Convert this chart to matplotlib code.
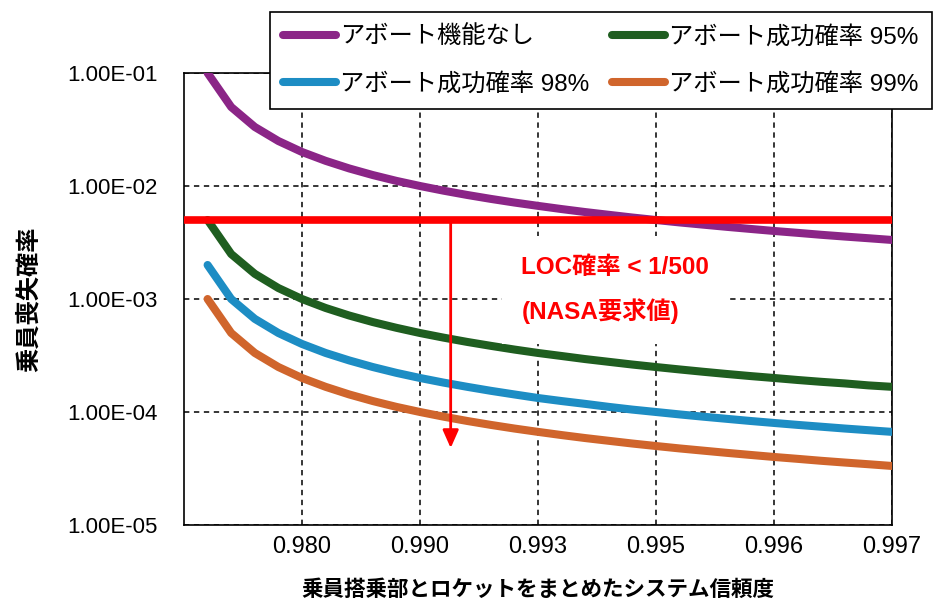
import numpy as np
import matplotlib
matplotlib.use("Agg")
import matplotlib.pyplot as plt
from matplotlib.ticker import FixedLocator, FixedFormatter, FuncFormatter

plt.rcParams['font.family'] = ['Liberation Sans', 'Noto Sans CJK JP']

# x position = 1 / (1 - reliability), i.e. flights per loss of vehicle
flights = [10, 20, 30, 40, 50, 60, 70, 80, 90, 100,
           110, 120, 130, 140, 150, 160, 170, 180, 190, 200,
           210, 220, 230, 240, 250, 260, 270, 280, 290, 300]

# crew loss probability per series
no_abort = [1.00e-1, 5.00e-2, 3.33e-2, 2.50e-2, 2.00e-2, 1.67e-2, 1.43e-2, 1.25e-2, 1.11e-2, 1.00e-2,
            9.09e-3, 8.33e-3, 7.69e-3, 7.14e-3, 6.67e-3, 6.25e-3, 5.88e-3, 5.56e-3, 5.26e-3, 5.00e-3,
            4.76e-3, 4.55e-3, 4.35e-3, 4.17e-3, 4.00e-3, 3.85e-3, 3.70e-3, 3.57e-3, 3.45e-3, 3.33e-3]
abort_95 = [5.00e-3, 2.50e-3, 1.67e-3, 1.25e-3, 1.00e-3, 8.33e-4, 7.14e-4, 6.25e-4, 5.56e-4, 5.00e-4,
            4.55e-4, 4.17e-4, 3.85e-4, 3.57e-4, 3.33e-4, 3.13e-4, 2.94e-4, 2.78e-4, 2.63e-4, 2.50e-4,
            2.38e-4, 2.27e-4, 2.17e-4, 2.08e-4, 2.00e-4, 1.92e-4, 1.85e-4, 1.79e-4, 1.72e-4, 1.67e-4]
abort_98 = [2.00e-3, 1.00e-3, 6.67e-4, 5.00e-4, 4.00e-4, 3.33e-4, 2.86e-4, 2.50e-4, 2.22e-4, 2.00e-4,
            1.82e-4, 1.67e-4, 1.54e-4, 1.43e-4, 1.33e-4, 1.25e-4, 1.18e-4, 1.11e-4, 1.05e-4, 1.00e-4,
            9.52e-5, 9.09e-5, 8.70e-5, 8.33e-5, 8.00e-5, 7.69e-5, 7.41e-5, 7.14e-5, 6.90e-5, 6.67e-5]
abort_99 = [1.00e-3, 5.00e-4, 3.33e-4, 2.50e-4, 2.00e-4, 1.67e-4, 1.43e-4, 1.25e-4, 1.11e-4, 1.00e-4,
            9.09e-5, 8.33e-5, 7.69e-5, 7.14e-5, 6.67e-5, 6.25e-5, 5.88e-5, 5.56e-5, 5.26e-5, 5.00e-5,
            4.76e-5, 4.55e-5, 4.35e-5, 4.17e-5, 4.00e-5, 3.85e-5, 3.70e-5, 3.57e-5, 3.45e-5, 3.33e-5]

series_labels = ['アボート機能なし', 'アボート成功確率 95%', 'アボート成功確率 98%', 'アボート成功確率 99%']
series_colors = ['#8B2587', '#1F5E20', '#1D8DC4', '#D0652C']

x_ticks = [50, 100, 150, 200, 250, 300]
x_tick_labels = ['0.980', '0.990', '0.993', '0.995', '0.996', '0.997']
y_ticks = [1e-5, 1e-4, 1e-3, 1e-2, 1e-1]

loc_limit = 5e-3        # requirement line
arrow_x = 113
arrow_end = 4.8e-5

fig = plt.figure(figsize=(9.33, 6.03), dpi=100)
ax = fig.add_axes([184 / 933, 1 - 525 / 603, 708 / 933, 452 / 603])

lines = []
for ys, lab, col in zip([no_abort, abort_95, abort_98, abort_99], series_labels, series_colors):
    ln, = ax.plot(flights, ys, color=col, lw=5.8, solid_capstyle='round',
                  solid_joinstyle='round', label=lab, zorder=3)
    lines.append(ln)

ax.axhline(loc_limit, color='#FF0000', lw=5.5, zorder=4)
ax.annotate('', xy=(arrow_x, arrow_end), xytext=(arrow_x, loc_limit),
            arrowprops=dict(arrowstyle='-|>,head_length=0.45,head_width=0.2',
                            color='#FF0000', lw=2, mutation_scale=24,
                            shrinkA=0, shrinkB=0), zorder=5)
ax.text(143, 1.2e-3, 'LOC確率 < 1/500\n(NASA要求値)', color='#FF0000',
        fontsize=17.5, fontweight='bold', ha='left', va='center', linespacing=1.95,
        bbox=dict(boxstyle='square,pad=0.8', fc='white', ec='none'), zorder=6)

ax.set_yscale('log')
ax.set_ylim(1e-5, 1e-1)
ax.set_xlim(0, 300)
ax.yaxis.set_major_locator(FixedLocator(y_ticks))
ax.yaxis.set_major_formatter(FuncFormatter(lambda v, p: f'{v:.2E}'))
ax.yaxis.set_minor_locator(FixedLocator([]))
ax.xaxis.set_major_locator(FixedLocator(x_ticks))
ax.xaxis.set_major_formatter(FixedFormatter(x_tick_labels))

ax.tick_params(axis='y', length=0, pad=19, labelsize=16)
ax.tick_params(axis='x', length=0, pad=8, labelsize=17)

ax.grid(True, color='black', lw=1.1, ls=(0, (3.5, 3)))
ax.set_axisbelow(True)
for sp in ax.spines.values():
    sp.set_color('black')
    sp.set_linewidth(1.2)

ax.set_ylabel('乗員喪失確率', fontsize=17.5, fontweight='bold')
ax.yaxis.set_label_coords(-0.203, 0.5)
ax.set_xlabel('乗員搭乗部とロケットをまとめたシステム信頼度', fontsize=15.5, fontweight='bold')
ax.xaxis.set_label_coords(0.5, -0.122)

order = [0, 2, 1, 3]
leg = fig.legend([lines[i] for i in order], [series_labels[i] for i in order],
                 ncol=2, loc='upper right', bbox_to_anchor=(932 / 933, 1 - 12 / 603),
                 fontsize=17.5, frameon=True, fancybox=False, framealpha=1,
                 edgecolor='black', borderaxespad=0, borderpad=0.55,
                 handlelength=2.18, handletextpad=0.16, columnspacing=0.95,
                 labelspacing=1.0)
leg.get_frame().set_linewidth(1.2)
for h in leg.legend_handles:
    h.set_linewidth(5.8)

fig.savefig('out.png', dpi=100)
